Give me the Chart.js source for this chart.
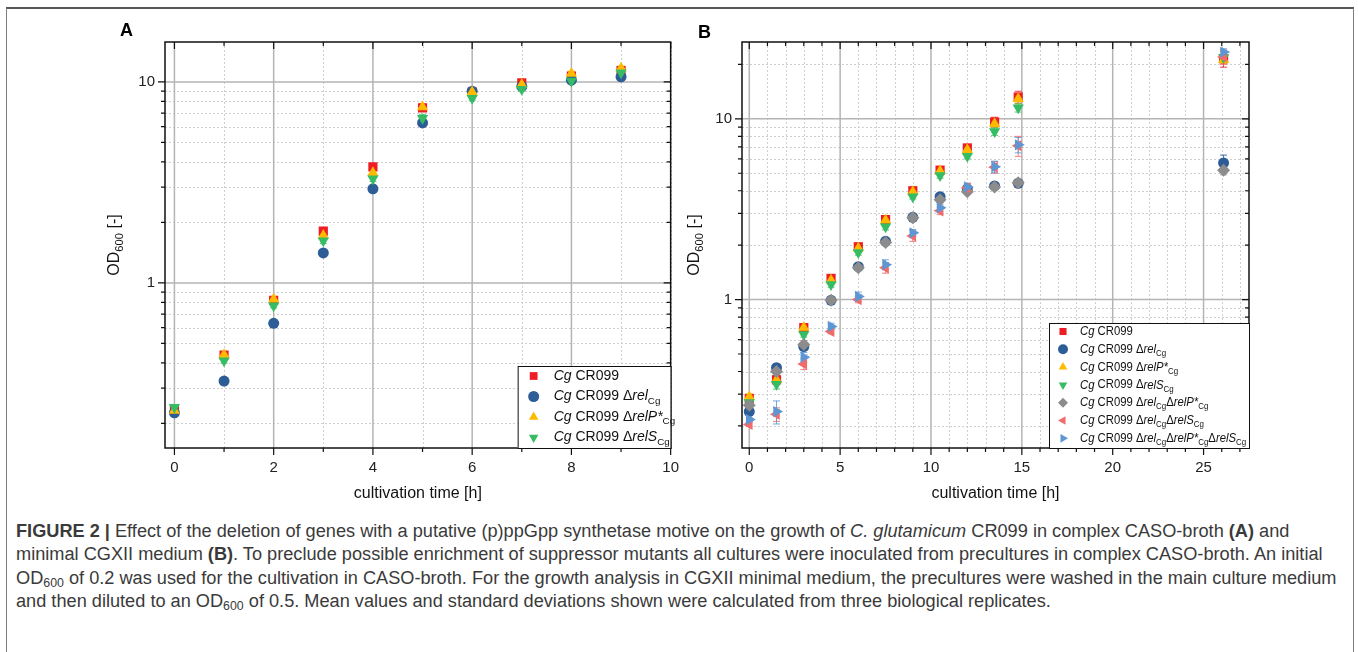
<!DOCTYPE html>
<html>
<head>
<meta charset="utf-8">
<script src="https://cdn.jsdelivr.net/npm/chart.js@4.4.1/dist/chart.umd.min.js"></script>
<style>
  body { margin: 0; background: #fff; width: 1358px; height: 652px; overflow: hidden; position: relative;
         font-family: "Liberation Sans", Arial, sans-serif; }
  #frame { position: absolute; left: 6px; top: 7px; width: 1346px; height: 700px;
           border: 1.5px solid #808080; border-top: 2px solid #555; }
  .plot { position: absolute; top: 15px; width: 590px; height: 500px; }
  #caption { position: absolute; left: 16px; top: 520px; font-size: 18px; line-height: 23.4px;
             color: #3a3a3a; white-space: nowrap; }
  #caption > div { display: table; }
  #caption sub { font-size: 0.68em; vertical-align: -3px; line-height: 0; }
</style>
</head>
<body>
<div id="frame"></div>
<div class="plot" style="left:100px"><canvas id="chartA"></canvas></div>
<div class="plot" style="left:680px"><canvas id="chartB"></canvas></div>
<div id="caption">
  <div><b>FIGURE 2 |</b> Effect of the deletion of genes with a putative (p)ppGpp synthetase motive on the growth of <i>C. glutamicum</i> CR099 in complex CASO-broth <b>(A)</b> and</div>
  <div>minimal CGXII medium <b>(B)</b>. To preclude possible enrichment of suppressor mutants all cultures were inoculated from precultures in complex CASO-broth. An initial</div>
  <div id="cap3">OD<sub>600</sub> of 0.2 was used for the cultivation in CASO-broth. For the growth analysis in CGXII minimal medium, the precultures were washed in the main culture medium</div>
  <div>and then diluted to an OD<sub>600</sub> of 0.5. Mean values and standard deviations shown were calculated from three biological replicates.</div>
</div>
<script>
// ---- panel A: complex CASO-broth ----
const timeA = [0, 1, 2, 3, 4, 5, 6, 7, 8, 9];
const odA_CR099 = [0.233, 0.438, 0.82, 1.81, 3.78, 7.43, 8.9, 9.9, 10.7, 11.4];
const odA_rel   = [0.226, 0.325, 0.63, 1.41, 2.94, 6.25, 9.0, 9.5, 10.2, 10.6];
const odA_relP  = [0.232, 0.44, 0.83, 1.72, 3.53, 7.5, 8.9, 9.7, 11.0, 11.7];
const odA_relS  = [0.241, 0.41, 0.77, 1.62, 3.3, 6.6, 8.3, 9.2, 10.1, 11.1];
const sdA_CR099 = [0.005, 0.01, 0.02, 0.05, 0.1, 0.3, 0.2, 0.2, 0.2, 0.3];
const sdA_rel   = [0.005, 0.01, 0.01, 0.03, 0.05, 0.15, 0.2, 0.2, 0.2, 0.2];
const sdA_relP  = [0.005, 0.01, 0.02, 0.05, 0.1, 0.3, 0.2, 0.2, 0.3, 0.3];
const sdA_relS  = [0.005, 0.01, 0.02, 0.05, 0.1, 0.3, 0.2, 0.2, 0.2, 0.3];

// ---- panel B: minimal CGXII medium ----
const timeB = [0, 1.5, 3, 4.5, 6, 7.5, 9, 10.5, 12, 13.5, 14.8, 26.1];
const odB_CR099     = [0.284, 0.36, 0.70, 1.31, 1.96, 2.77, 4.0, 5.2, 6.9, 9.6, 13.2, 21.5];
const odB_rel       = [0.24, 0.42, 0.55, 0.99, 1.52, 2.1, 2.85, 3.71, 4.1, 4.25, 4.4, 5.7];
const odB_relP      = [0.29, 0.36, 0.70, 1.28, 1.92, 2.75, 3.95, 5.15, 6.75, 9.4, 12.9, 21.2];
const odB_relS      = [0.27, 0.34, 0.64, 1.21, 1.82, 2.53, 3.7, 4.85, 6.2, 8.5, 11.5, 21.8];
const odB_rel_relP  = [0.26, 0.40, 0.564, 0.99, 1.5, 2.07, 2.84, 3.57, 3.95, 4.2, 4.43, 5.2];
const odB_rel_relS  = [0.204, 0.232, 0.44, 0.666, 1.0, 1.5, 2.25, 3.1, 4.15, 5.4, 7.1, 22.0];
const odB_triple    = [0.217, 0.24, 0.48, 0.71, 1.04, 1.56, 2.34, 3.22, 4.2, 5.43, 7.18, 23.4];
const sdB_CR099     = [0.01, 0.02, 0.03, 0.05, 0.08, 0.1, 0.15, 0.2, 0.3, 0.6, 1.0, 2.2];
const sdB_rel       = [0.01, 0.02, 0.02, 0.03, 0.05, 0.05, 0.1, 0.1, 0.1, 0.1, 0.1, 0.6];
const sdB_relP      = [0.01, 0.02, 0.02, 0.04, 0.06, 0.1, 0.1, 0.15, 0.2, 0.4, 0.8, 1.0];
const sdB_relS      = [0.01, 0.02, 0.02, 0.04, 0.06, 0.1, 0.1, 0.15, 0.2, 0.4, 0.6, 1.0];
const sdB_rel_relP  = [0.01, 0.02, 0.03, 0.04, 0.05, 0.05, 0.08, 0.1, 0.1, 0.1, 0.1, 0.3];
const sdB_rel_relS  = [0.005, 0.02, 0.03, 0.02, 0.04, 0.1, 0.15, 0.15, 0.2, 0.4, 0.9, 2.0];
const sdB_triple    = [0.005, 0.035, 0.03, 0.03, 0.06, 0.1, 0.1, 0.15, 0.2, 0.4, 0.7, 1.0];

// tick labels
const xLabelsA = [0, 2, 4, 6, 8, 10];
const xLabelsB = [0, 5, 10, 15, 20, 25];
const yLabels = [1, 10];

// legend labels: [text, style] with n = normal, i = italic, s = subscript
const strainLabels = [
  [['Cg', 'i'], [' CR099', 'n']],
  [['Cg', 'i'], [' CR099 Δ', 'n'], ['rel', 'i'], ['Cg', 's']],
  [['Cg', 'i'], [' CR099 Δ', 'n'], ['relP*', 'i'], ['Cg', 's']],
  [['Cg', 'i'], [' CR099 Δ', 'n'], ['relS', 'i'], ['Cg', 's']],
  [['Cg', 'i'], [' CR099 Δ', 'n'], ['rel', 'i'], ['Cg', 's'], ['Δ', 'n'], ['relP*', 'i'], ['Cg', 's']],
  [['Cg', 'i'], [' CR099 Δ', 'n'], ['rel', 'i'], ['Cg', 's'], ['Δ', 'n'], ['relS', 'i'], ['Cg', 's']],
  [['Cg', 'i'], [' CR099 Δ', 'n'], ['rel', 'i'], ['Cg', 's'], ['Δ', 'n'], ['relP*', 'i'], ['Cg', 's'], ['Δ', 'n'], ['relS', 'i'], ['Cg', 's']]
];
const yTitle = [['OD', 'n'], ['600', 's'], [' [-]', 'n']];

const colors = ['#ee1c24', '#2d5d96', '#ffba00', '#36bd64', '#8c8c8c', '#f26a6a', '#5d97d3'];
const markers = [
  { style: 'rect', rot: 0 }, { style: 'circle', rot: 0 }, { style: 'triangle', rot: 0 },
  { style: 'triangle', rot: 180 }, { style: 'rectRot', rot: 0 }, { style: 'triangle', rot: -90 },
  { style: 'triangle', rot: 90 }
];
const FONT = '"Liberation Sans", Arial, sans-serif';

// caption: stretch the font so the long lines fill the frame as in the figure
(function fitCaption() {
  const cap = document.getElementById('caption');
  const w = document.getElementById('cap3').getBoundingClientRect().width;
  cap.style.fontSize = (18 * 1321 / w).toFixed(2) + 'px';
})();

function drawRich(ctx, x, y, segs, size, color) {
  ctx.fillStyle = color || '#111';
  ctx.textBaseline = 'middle';
  ctx.textAlign = 'left';
  segs.forEach(([txt, st]) => {
    let fs = size, dy = 0, style = '';
    if (st === 'i') style = 'italic ';
    if (st === 's') { fs = size * 0.7; dy = size * 0.32; }
    ctx.font = style + fs + 'px ' + FONT;
    ctx.fillText(txt, x, y + dy);
    x += ctx.measureText(txt).width;
  });
  return x;
}

function richWidth(ctx, segs, size) {
  let w = 0;
  segs.forEach(([txt, st]) => {
    const fs = st === 's' ? size * 0.7 : size;
    ctx.font = (st === 'i' ? 'italic ' : '') + fs + 'px ' + FONT;
    w += ctx.measureText(txt).width;
  });
  return w;
}

function drawMarker(ctx, m, x, y, r, color) {
  ctx.save();
  ctx.translate(x, y);
  ctx.rotate(m.rot * Math.PI / 180);
  ctx.fillStyle = color;
  ctx.beginPath();
  if (m.style === 'circle') ctx.arc(0, 0, r, 0, Math.PI * 2);
  else if (m.style === 'rect') { const s = r * Math.SQRT1_2; ctx.rect(-s, -s, 2 * s, 2 * s); }
  else if (m.style === 'rectRot') { ctx.moveTo(0, -r); ctx.lineTo(r, 0); ctx.lineTo(0, r); ctx.lineTo(-r, 0); }
  else {
    for (let k = 0; k < 3; k++) {
      const a = k * 2 * Math.PI / 3;
      ctx[k ? 'lineTo' : 'moveTo'](Math.sin(a) * r, -Math.cos(a) * r);
    }
  }
  ctx.closePath();
  ctx.fill();
  ctx.restore();
}

function range(a, b, step) {
  const out = [];
  for (let v = a; v <= b + 1e-9; v += step) out.push(+v.toFixed(4));
  return out;
}

function figurePlugin(cfg) {
  return {
    id: 'figure' + cfg.letter,
    beforeDatasetsDraw(chart) {
      const ctx = chart.ctx, xs = chart.scales.x, ys = chart.scales.y;
      const { left, right, top, bottom } = chart.chartArea;
      ctx.save();
      // minor grid (dotted)
      ctx.lineWidth = 1;
      ctx.strokeStyle = '#cfcfcf';
      ctx.setLineDash([2, 2]);
      cfg.xMinor.forEach(v => {
        if (cfg.xMajor.includes(v)) return;
        const p = Math.round(xs.getPixelForValue(v)) + 0.5;
        ctx.beginPath(); ctx.moveTo(p, top); ctx.lineTo(p, bottom); ctx.stroke();
      });
      cfg.yMinor.forEach(v => {
        const p = Math.round(ys.getPixelForValue(v)) + 0.5;
        ctx.beginPath(); ctx.moveTo(left, p); ctx.lineTo(right, p); ctx.stroke();
      });
      // major grid (solid)
      ctx.setLineDash([]);
      ctx.strokeStyle = '#b4b4b4';
      ctx.lineWidth = 1.5;
      cfg.xMajor.forEach(v => {
        const p = xs.getPixelForValue(v);
        ctx.beginPath(); ctx.moveTo(p, top); ctx.lineTo(p, bottom); ctx.stroke();
      });
      yLabels.forEach(v => {
        const p = ys.getPixelForValue(v);
        ctx.beginPath(); ctx.moveTo(left, p); ctx.lineTo(right, p); ctx.stroke();
      });
      // error bars
      ctx.lineWidth = 1;
      chart.data.datasets.forEach((ds, i) => {
        const err = cfg.errors[i];
        ctx.strokeStyle = ds.backgroundColor;
        ctx.globalAlpha = 0.85;
        ds.data.forEach((pt, j) => {
          const e = err[j];
          const x = xs.getPixelForValue(pt.x);
          const y1 = ys.getPixelForValue(pt.y + e);
          const y2 = ys.getPixelForValue(pt.y - e);
          ctx.beginPath();
          ctx.moveTo(x, y1); ctx.lineTo(x, y2);
          ctx.moveTo(x - 3.5, y1); ctx.lineTo(x + 3.5, y1);
          ctx.moveTo(x - 3.5, y2); ctx.lineTo(x + 3.5, y2);
          ctx.stroke();
        });
      });
      ctx.restore();
    },
    afterDraw(chart) {
      const ctx = chart.ctx, xs = chart.scales.x, ys = chart.scales.y;
      const { left, right, top, bottom } = chart.chartArea;
      ctx.save();
      // frame
      ctx.strokeStyle = '#111';
      ctx.lineWidth = 1.5;
      ctx.strokeRect(left, top, right - left, bottom - top);
      // tick marks: outside on left/bottom, inside on top/right
      ctx.lineWidth = 1.2;
      ctx.beginPath();
      cfg.xMinor.forEach(v => {
        const p = xs.getPixelForValue(v);
        const len = xs.ticks.some(t => t.value === v) ? 7 : 4;
        ctx.moveTo(p, bottom); ctx.lineTo(p, bottom + len);
        ctx.moveTo(p, top); ctx.lineTo(p, top + len);
      });
      cfg.yMinor.concat(yLabels).forEach(v => {
        const p = ys.getPixelForValue(v);
        const len = yLabels.includes(v) ? 7 : 4;
        ctx.moveTo(left - len, p); ctx.lineTo(left, p);
        ctx.moveTo(right - len, p); ctx.lineTo(right, p);
      });
      ctx.stroke();
      // axis titles
      ctx.fillStyle = '#111';
      ctx.font = '16px ' + FONT;
      ctx.textAlign = 'center';
      ctx.textBaseline = 'middle';
      ctx.fillText('cultivation time [h]', (left + right) / 2, bottom + 46);
      ctx.save();
      ctx.translate(cfg.yTitleX, (top + bottom) / 2);
      ctx.rotate(-Math.PI / 2);
      drawRich(ctx, -richWidth(ctx, yTitle, 16) / 2, 0, yTitle, 16, '#111');
      ctx.restore();
      // panel letter
      ctx.fillStyle = '#000';
      ctx.font = 'bold 18px ' + FONT;
      ctx.textAlign = 'left';
      ctx.fillText(cfg.letter, cfg.letterX, cfg.letterY);
      // legend
      const lg = cfg.legend;
      const bx = right - lg.width, by = bottom - lg.height;
      ctx.fillStyle = '#fff';
      ctx.fillRect(bx, by, lg.width, lg.height);
      ctx.strokeStyle = '#111';
      ctx.lineWidth = 1;
      ctx.strokeRect(bx + 0.5, by + 0.5, lg.width, lg.height);
      chart.data.datasets.forEach((ds, i) => {
        const cy = by + lg.first + i * lg.rowH;
        drawMarker(ctx, markers[i], bx + lg.markerDx, cy, lg.r, ds.backgroundColor);
        ctx.save();
        ctx.translate(bx + lg.textDx, cy);
        ctx.scale(lg.squeeze, 1);
        drawRich(ctx, 0, 0, strainLabels[i], lg.font, '#111');
        ctx.restore();
      });
      ctx.restore();
    }
  };
}

function makeDatasets(times, series) {
  return series.map((vals, i) => ({
    data: times.map((t, j) => ({ x: t, y: vals[j] })),
    backgroundColor: colors[i],
    borderColor: colors[i],
    borderWidth: 0,
    pointStyle: markers[i].style,
    pointRotation: markers[i].rot,
    pointRadius: markers[i].style === 'circle' ? 5.5 : 6.5,
    order: series.length - i
  }));
}

function makeOptions(xMin, xMax, yMax, xLabels, yAxisWidth, padRight) {
  const tickFont = { family: FONT, size: 15 };
  return {
    responsive: true,
    maintainAspectRatio: false,
    animation: false,
    layout: { padding: { top: 27, right: padRight, left: 0, bottom: 0 } },
    plugins: { legend: { display: false }, tooltip: { enabled: false } },
    scales: {
      x: {
        type: 'linear', min: xMin, max: xMax,
        afterBuildTicks: s => { s.ticks = xLabels.map(v => ({ value: v })); },
        afterFit: s => { s.height = 67; },
        ticks: { font: tickFont, color: '#222', padding: 11, maxRotation: 0, autoSkip: false },
        grid: { display: false, drawTicks: false },
        border: { display: false }
      },
      y: {
        type: 'logarithmic', min: 0.151, max: yMax,
        afterBuildTicks: s => { s.ticks = yLabels.map(v => ({ value: v })); },
        afterFit: s => { s.width = yAxisWidth; },
        ticks: { font: tickFont, color: '#222', padding: 10, callback: v => String(v) },
        grid: { display: false, drawTicks: false },
        border: { display: false }
      }
    }
  };
}

new Chart(document.getElementById('chartA'), {
  type: 'scatter',
  data: { datasets: makeDatasets(timeA, [odA_CR099, odA_rel, odA_relP, odA_relS]) },
  options: makeOptions(-0.19, 10, 15.8, xLabelsA, 65, 18),
  plugins: [figurePlugin({
    letter: 'A', letterX: 20, letterY: 16, yTitleX: 15,
    xMinor: range(0, 10, 1), xMajor: [0, 2, 4, 6, 8],
    yMinor: [0.2, 0.3, 0.4, 0.5, 0.6, 0.7, 0.8, 0.9, 2, 3, 4, 5, 6, 7, 8, 9],
    errors: [sdA_CR099, sdA_rel, sdA_relP, sdA_relS],
    legend: { width: 153, height: 82, first: 10, rowH: 20.5, markerDx: 16, textDx: 36, font: 14, r: 5.5, squeeze: 1 }
  })]
});

new Chart(document.getElementById('chartB'), {
  type: 'scatter',
  data: { datasets: makeDatasets(timeB, [odB_CR099, odB_rel, odB_relP, odB_relS, odB_rel_relP, odB_rel_relS, odB_triple]) },
  options: makeOptions(-0.4, 27.5, 26.6, xLabelsB, 62, 21),
  plugins: [figurePlugin({
    letter: 'B', letterX: 18, letterY: 18, yTitleX: 15,
    xMinor: range(0, 27, 1), xMajor: [0, 5, 10, 15, 20, 25],
    yMinor: [0.2, 0.3, 0.4, 0.5, 0.6, 0.7, 0.8, 0.9, 2, 3, 4, 5, 6, 7, 8, 9, 20],
    errors: [sdB_CR099, sdB_rel, sdB_relP, sdB_relS, sdB_rel_relP, sdB_rel_relS, sdB_triple],
    legend: { width: 200, height: 125, first: 8.5, rowH: 17.8, markerDx: 14, textDx: 31, font: 13, r: 5, squeeze: 0.87 }
  })]
});
</script>
</body>
</html>
